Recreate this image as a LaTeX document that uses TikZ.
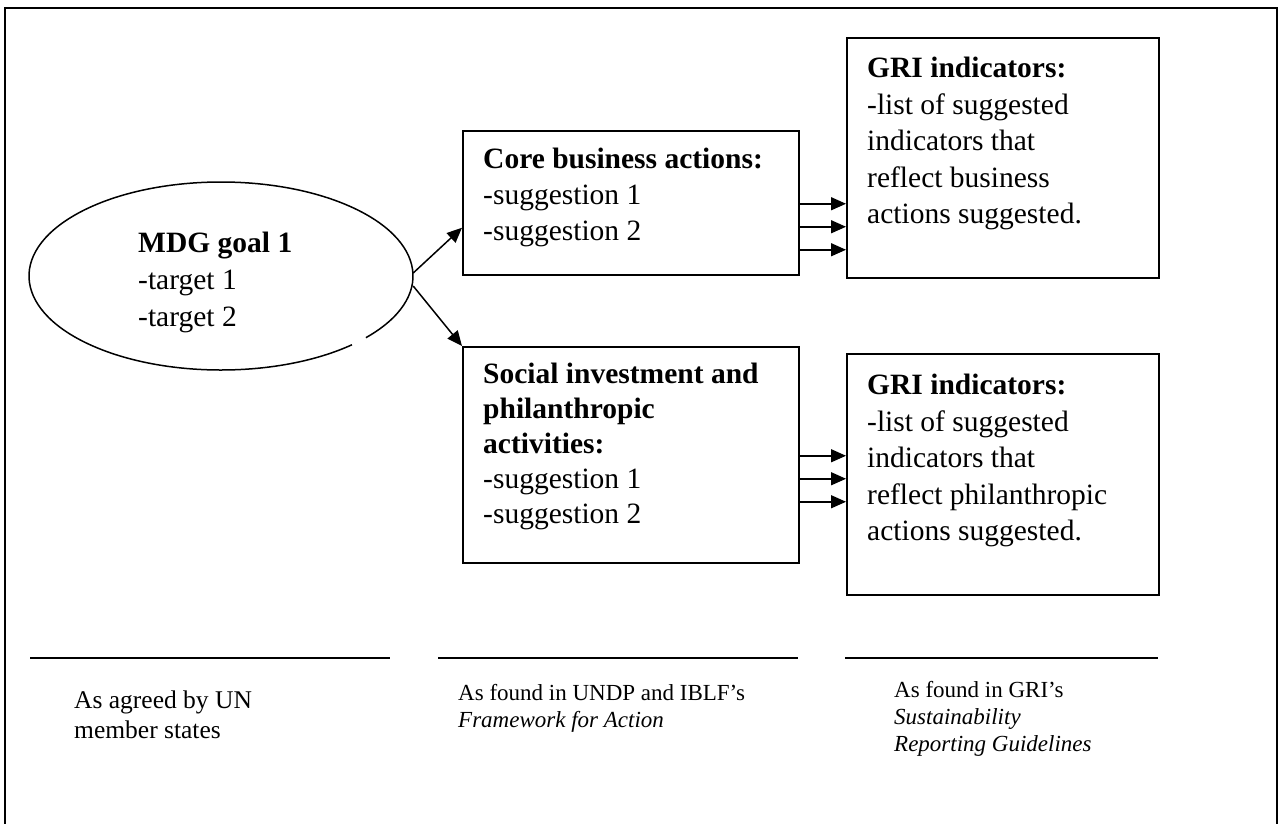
\documentclass[tikz,border=0pt]{standalone}
\usepackage{fontspec}
\setmainfont{Liberation Serif}
\usetikzlibrary{arrows.meta,shapes.geometric}

\begin{document}
\begin{tikzpicture}[x=1pt, y=-1pt,
  box/.style={draw, line width=1.5pt, anchor=north west, inner sep=0pt},
  txt/.style={anchor=north west, align=left, inner sep=0pt, font=\fontsize{29.5}{36}\selectfont},
  note/.style={anchor=north west, align=left, inner sep=0pt, font=\fontsize{23}{27}\selectfont},
  arr/.style={-{Triangle[length=15pt, width=13pt]}, line width=1.5pt},
  rule/.style={line width=2pt}
]
\useasboundingbox (0,0) rectangle (1285,823);
\draw[line width=2pt] (5,830) |- (1277,8) -- (1277,830);

% goal ellipse, outline broken at the lower right
\node[ellipse, minimum width=384pt, minimum height=188pt, inner sep=0pt] (goal) at (221,276) {};
\draw[line width=1.5pt] ([shift={(-41:192pt and 94pt)}]goal.center)
  arc[start angle=-41, end angle=313, x radius=192pt, y radius=94pt];
\node[txt, font=\fontsize{29.5}{37}\selectfont] (goaltxt) at (138,232) {\textbf{MDG goal 1}\\-target 1\\-target 2};

% action boxes
\node[box, minimum width=336pt, minimum height=144pt] (core) at (462,130) {};
\node[txt] (coretxt) at (483,148) {\textbf{Core business actions:}\\-suggestion 1\\-suggestion 2};
\node[box, minimum width=336pt, minimum height=216pt] (social) at (462,346) {};
\node[txt, font=\fontsize{29.5}{35}\selectfont] (socialtxt) at (483,363)
  {\textbf{Social investment and}\\\textbf{philanthropic}\\\textbf{activities:}\\-suggestion 1\\-suggestion 2};

% indicator boxes
\node[box, minimum width=312pt, minimum height=240pt] (gri1) at (846,37) {};
\node[txt, font=\fontsize{29.5}{36.5}\selectfont] (gri1txt) at (867,57)
  {\textbf{GRI indicators:}\\-list of suggested\\indicators that\\reflect business\\actions suggested.};
\node[box, minimum width=312pt, minimum height=241pt] (gri2) at (846,353) {};
\node[txt, font=\fontsize{29.5}{36.5}\selectfont] (gri2txt) at (867,374)
  {\textbf{GRI indicators:}\\-list of suggested\\indicators that\\reflect philanthropic\\actions suggested.};

% connectors
\draw[arr] ([yshift=3pt]goal.east) -- ([yshift=-25pt]core.west);
\draw[arr] ([yshift=-10pt]goal.east) -- (social.north west);
\foreach \dy in {1,24,47} {
  \draw[arr] ([yshift=-\dy pt]core.east) -- ([yshift=-\dy pt]core.east -| gri1.west);
  \draw[arr] ([yshift=-\dy pt]social.east) -- ([yshift=-\dy pt]social.east -| gri2.west);
}

% sources along the bottom
\draw[rule] (30,658) -- (390,658);
\draw[rule] (438,658) -- (798,658);
\draw[rule] (845,658) -- (1158,658);
\node[note, font=\fontsize{25.5}{30}\selectfont] (un) at (74,691) {As agreed by UN\\member states};
\node[note] (undp) at (458,684) {As found in UNDP and IBLF’s\\\textit{Framework for Action}};
\node[note] (grisrc) at (894,681) {As found in GRI’s\\\textit{Sustainability}\\\textit{Reporting Guidelines}};
\end{tikzpicture}
\end{document}
